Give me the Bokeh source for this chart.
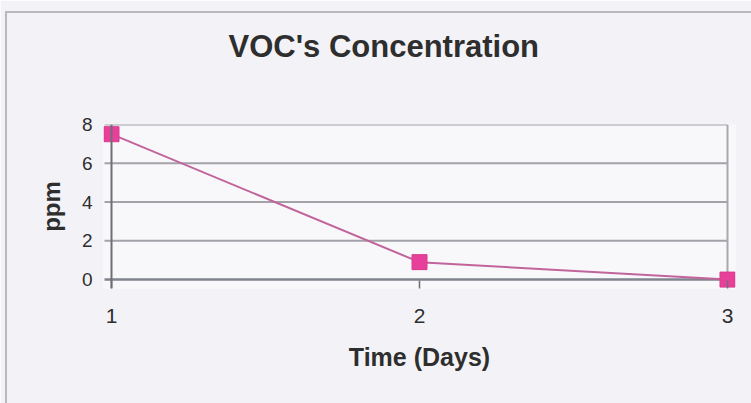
from bokeh.plotting import figure
from bokeh.models import Range1d, Span, FixedTicker, Title, InlineStyleSheet
from bokeh.embed import file_html
from bokeh.resources import INLINE

# ---- data ----
days = [1, 2, 3]
ppm = [7.5, 0.9, 0.0]
y_ticks = [0, 2, 4, 6, 8]
x_ticks = [1, 2, 3]
title_text = "VOC's Concentration"
x_label = "Time (Days)"
y_label = "ppm"

FONT = "Liberation Sans"
TEXT = "#2e2e2e"
W, H = 751, 403

p = figure(width=W, height=H, output_backend="svg", toolbar_location=None,
           x_range=Range1d(0.974, 3.026), y_range=Range1d(-0.46, 8),
           min_border_left=103, min_border_right=16, min_border_top=124,
           min_border_bottom=115)

p.background_fill_color = "#f8f8fb"
p.border_fill_color = "#f3f3f7"
p.outline_line_color = None
p.xgrid.grid_line_color = None
p.ygrid.grid_line_color = None

# chart-area border (top and left) drawn with CSS
p.stylesheets = [InlineStyleSheet(css="""
:host::after {
  content: ""; position: absolute; left: 5px; top: 11px; right: 0; bottom: 0;
  border-top: 2px solid #b9b9bd; border-left: 2px solid #b9b9bd;
  pointer-events: none;
}
""")]

# spacer between frame and title
p.add_layout(Title(text=" ", text_font_size="1px", standoff=58), "above")

# title
p.title.text = title_text
p.title.text_font = FONT
p.title.text_font_size = "31px"
p.title.text_font_style = "bold"
p.title.text_color = TEXT
p.title.align = "left"
p.title.offset = 125
p.title.vertical_align = "bottom"
p.title.standoff = 0

# horizontal grid lines (with tick stubs to the left of the y axis)
stub = 7 / 308
grid_y = [t for t in y_ticks if t != 0]
p.segment(x0=[x_ticks[0] - stub] * len(grid_y), y0=grid_y,
          x1=[x_ticks[-1]] * len(grid_y), y1=grid_y,
          line_color="#a2a2a8", line_width=2)
p.segment(x0=[x_ticks[0] - stub], y0=[0], x1=[x_ticks[-1]], y1=[0],
          line_color="#80848f", line_width=2.5)
# right border of plot area
p.segment(x0=[x_ticks[-1]], y0=[0], x1=[x_ticks[-1]], y1=[y_ticks[-1]],
          line_color="#a8a8ae", line_width=2)
# y axis line
p.add_layout(Span(location=x_ticks[0], dimension="height",
                  line_color="#6e6e74", line_width=2))

# series
p.line(days, ppm, line_color="#c2649c", line_width=2)
p.scatter(days, ppm, marker="square", size=15,
          fill_color="#e8409a", line_color="#d83a8c", line_width=1)

# x axis
xa = p.xaxis[0]
xa.ticker = FixedTicker(ticks=x_ticks)
xa.axis_line_color = None
xa.major_tick_in = 8
xa.major_tick_out = 0
xa.major_tick_line_color = "#6e6e74"
xa.major_tick_line_width = 1.5
xa.minor_tick_line_color = None
xa.major_label_standoff = 20
xa.major_label_text_font = FONT
xa.major_label_text_font_size = "21px"
xa.major_label_text_color = TEXT
xa.axis_label = x_label
xa.axis_label_text_font = FONT
xa.axis_label_text_font_size = "25px"
xa.axis_label_text_font_style = "bold"
xa.axis_label_text_color = TEXT
xa.axis_label_standoff = 17

# y axis
ya = p.yaxis[0]
ya.ticker = FixedTicker(ticks=y_ticks)
ya.axis_line_color = None
ya.major_tick_in = 0
ya.major_tick_out = 0
ya.minor_tick_line_color = None
ya.major_label_standoff = 11
ya.major_label_text_font = FONT
ya.major_label_text_font_size = "19px"
ya.major_label_text_color = TEXT
ya.axis_label = y_label
ya.axis_label_text_font = FONT
ya.axis_label_text_font_size = "24px"
ya.axis_label_text_font_style = "bold"
ya.axis_label_text_color = TEXT
ya.axis_label_standoff = 14

open("out.html", "w").write(file_html(p, INLINE))
